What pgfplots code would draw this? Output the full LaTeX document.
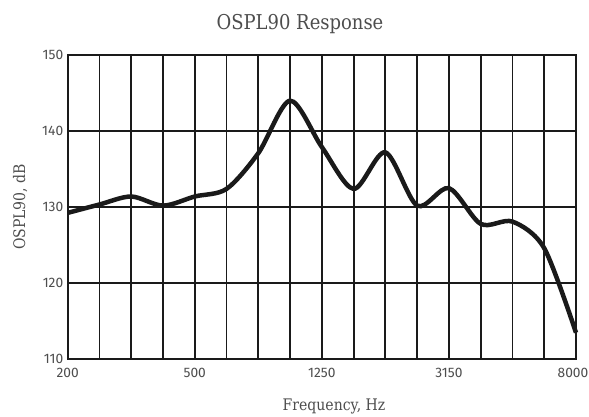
\documentclass[border=0pt]{standalone}
\usepackage{pgfplots}
\pgfplotsset{compat=1.18}
\usepackage{fontspec}
\setmainfont{DejaVu Serif}[FakeStretch=0.88]
\newfontfamily\tickfont{Fira Sans}
\definecolor{txt}{HTML}{4D4D4D}
\definecolor{ink}{HTML}{1A1A1A}
\begin{document}
\begin{tikzpicture}[x=1bp,y=1bp]
\useasboundingbox (0,0) rectangle (589,416);
\begin{axis}[
  at={(67.7bp,56.7bp)}, anchor=south west,
  scale only axis, width=508.3bp, height=304.3bp,
  xmin=0, xmax=16, ymin=110, ymax=150,
  xtick={0,...,16},
  xticklabels={200,,,,500,,,,1250,,,,3150,,,,\hspace*{-6bp}8000},
  ytick={110,120,130,140,150},
  major tick length=0pt,
  grid=major,
  grid style={ink, line width=1.9bp},
  axis line style={ink, line width=1.9bp},
  /pgf/number format/assume math mode=true,
  ticklabel style={font=\tickfont\fontsize{13.8}{13.8}\selectfont, text=txt},
  yticklabel style={xshift=-1bp},
  xticklabel style={yshift=-5bp},
  clip=false,
]
\addplot[ink, line width=4.5bp, smooth, tension=0.5] table[x=i, y=v] {
i v
0 129.25
1 130.35
2 131.4
3 130.2
4 131.4
5 132.4
6 137.1
7 144.0
8 137.9
9 132.4
10 137.2
11 130.2
12 132.5
13 127.8
14 128.1
15 124.6
16 113.5
};
\end{axis}
\node[anchor=base, text=txt, font=\fontsize{20.5}{20.5}\selectfont] at (300,386.7) {OSPL90 Response};
\node[anchor=base, text=txt, font=\fontsize{16}{16}\selectfont] at (334,6) {Frequency, Hz};
\node[anchor=base, rotate=90, text=txt, font=\fontsize{16}{16}\selectfont] at (25,209) {OSPL90, dB};
\end{tikzpicture}
\end{document}
